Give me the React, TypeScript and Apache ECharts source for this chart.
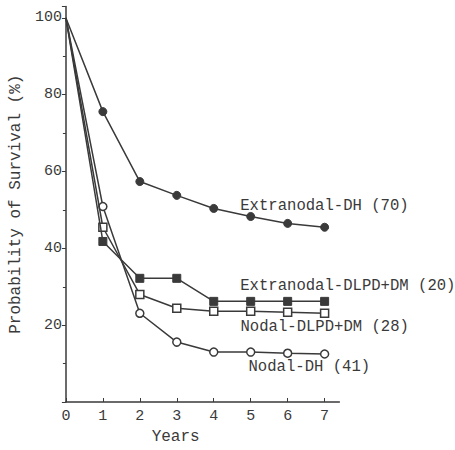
import React, { useEffect, useRef } from "react";
import * as echarts from "echarts";

const years = [0, 1, 2, 3, 4, 5, 6, 7];
const extranodalDH = [100, 75.6, 57.4, 53.8, 50.4, 48.3, 46.5, 45.5];
const extranodalDLPD = [100, 41.8, 32.2, 32.2, 26.2, 26.2, 26.2, 26.2];
const nodalDLPD = [100, 45.5, 28.0, 24.4, 23.6, 23.6, 23.4, 23.1];
const nodalDH = [100, 50.9, 23.1, 15.6, 13.0, 13.0, 12.7, 12.5];

const labelNames = [
  "Extranodal-DH (70)",
  "Extranodal-DLPD+DM (20)",
  "Nodal-DLPD+DM (28)",
  "Nodal-DH (41)",
];
const yTicks = [20, 40, 60, 80, 100];

const INK = "#3a3a3a";
const FONT = "Liberation Mono";

function buildData(vals: number[], label: string, offset: number[]) {
  return vals.map((v, i) => {
    const item: any = { value: [years[i], v] };
    if (i === 0) item.symbol = "none";
    if (i === 4) {
      item.label = {
        show: true,
        position: "right",
        distance: 0,
        offset,
        formatter: label,
        color: INK,
        fontFamily: FONT,
        fontSize: 15.6,
      };
    }
    return item;
  });
}

export default function App() {
  const ref = useRef<HTMLDivElement>(null);
  useEffect(() => {
    if (!ref.current) return;
    const chart = echarts.init(ref.current, undefined, { renderer: "svg" });
    const filled = { color: INK, borderColor: INK, borderWidth: 1 };
    const open = { color: "#fff", borderColor: INK, borderWidth: 1.5 };
    const line = { color: INK, width: 1.5 };
    chart.setOption({
      animation: false,
      backgroundColor: "#fff",
      grid: { left: 56, right: 115.6, top: 6.4, bottom: 47 },
      xAxis: {
        type: "value",
        min: 0,
        max: 7.4,
        interval: 1,
        name: "Years",
        nameLocation: "middle",
        nameGap: 27,
        nameTextStyle: {
          color: INK,
          fontFamily: FONT,
          fontSize: 16,
          padding: [0, 54, 0, 0],
        },
        axisLine: { lineStyle: { color: INK, width: 1.5 } },
        axisTick: { inside: true, length: 4, lineStyle: { color: INK } },
        axisLabel: {
          color: INK,
          fontFamily: FONT,
          fontSize: 15,
          margin: 7,
          showMaxLabel: false,
          formatter: (v: number) => (Number.isInteger(v) ? String(v) : ""),
        },
        splitLine: { show: false },
      },
      yAxis: {
        type: "value",
        min: 0,
        max: 103,
        interval: 20,
        name: "Probability of Survival (%)",
        nameLocation: "middle",
        nameRotate: 90,
        nameGap: 33,
        nameTextStyle: { color: INK, fontFamily: FONT, fontSize: 16 },
        axisLine: { show: true, lineStyle: { color: INK, width: 1.5 } },
        axisTick: { show: true, length: 4, lineStyle: { color: INK } },
        minorTick: { show: true, splitNumber: 2, length: 3, lineStyle: { color: INK } },
        axisLabel: {
          color: INK,
          fontFamily: FONT,
          fontSize: 15,
          margin: 4,
          showMaxLabel: false,
          showMinLabel: false,
          formatter: (v: number) => (yTicks.includes(v) ? String(v) : ""),
        },
        splitLine: { show: false },
      },
      series: [
        {
          type: "line",
          data: buildData(extranodalDH, labelNames[0], [22, -2]),
          symbol: "circle",
          symbolSize: 8,
          itemStyle: filled,
          lineStyle: line,
          z: 4,
        },
        {
          type: "line",
          data: buildData(extranodalDLPD, labelNames[1], [22, -15]),
          symbol: "rect",
          symbolSize: 8,
          itemStyle: filled,
          lineStyle: line,
          z: 3,
        },
        {
          type: "line",
          data: buildData(nodalDLPD, labelNames[2], [22, 16]),
          symbol: "rect",
          symbolSize: 8,
          itemStyle: open,
          lineStyle: line,
          z: 2,
        },
        {
          type: "line",
          data: buildData(nodalDH, labelNames[3], [30, 15]),
          symbol: "circle",
          symbolSize: 8,
          itemStyle: open,
          lineStyle: line,
          z: 1,
        },
      ],
    });
    return () => chart.dispose();
  }, []);
  return (
    <div
      ref={ref}
      style={{ position: "absolute", left: 0, top: 0, width: 455, height: 450 }}
    />
  );
}
